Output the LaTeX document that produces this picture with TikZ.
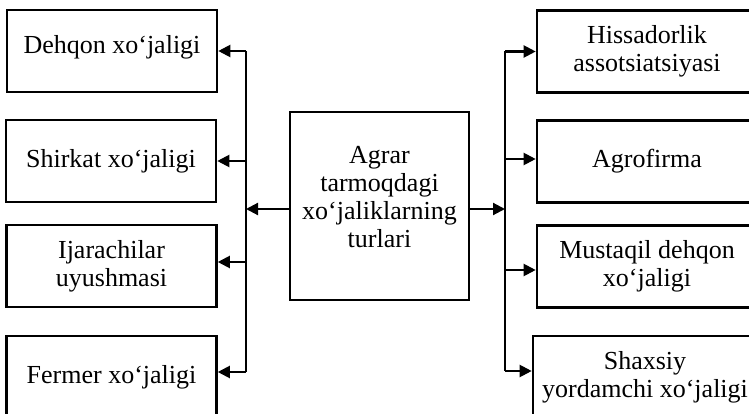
\documentclass[tikz,border=0pt]{standalone}
\usepackage{fontspec}
\setmainfont{Liberation Serif}
\usetikzlibrary{%
		arrows.meta%
		,positioning%
	}

\begin{document}
\begin{tikzpicture}[x=1pt,y=-1pt,
		txt/.style={align=center, font=\fontsize{26}{28}\selectfont},
		box/.style={draw, line width=2.6pt, inner sep=2pt, txt},
		lbox/.style={box, minimum width=210pt, minimum height=82pt},
		rbox/.style={box, minimum width=220pt, minimum height=82pt},
		conn/.style={line width=2.1pt},
		arr/.style={conn, -{Triangle[length=12pt,width=12pt]}}]
			\useasboundingbox (0,0) rectangle (749,414);
			\clip (0,0) rectangle (749,414);

			% Mitte
			\node[box, minimum width=179pt, minimum height=188pt,
				label={[txt, yshift=9pt]center:{Agrar\\tarmoqdagi\\xo‘jaliklarning\\turlari}}]
				(turlar) at (379.5,206) {};

			% links
			\node[lbox, label={[txt, yshift=4pt]center:{Dehqon xo‘jaligi}}] (dehqon) at (112,51) {};
			\node[lbox] (shirkat) at (111,161) {Shirkat xo‘jaligi};
			\node[lbox] (ijara) at (111.5,266) {Ijarachilar\\uyushmasi};
			\node[lbox] (fermer) at (111.5,377) {Fermer xo‘jaligi};

			% rechts
			\node[rbox] (hissa) at (647,51.5) {Hissadorlik\\assotsiatsiyasi};
			\node[rbox] (agro) at (647,161.5) {Agrofirma};
			\node[rbox] (mustaqil) at (647,266.5) {Mustaqil dehqon\\xo‘jaligi};
			\node[rbox, minimum width=224pt] (shaxsiy) at (645,377) {Shaxsiy\\yordamchi xo‘jaligi};

			\coordinate (lbus) at (246,0);
			\coordinate (rbus) at (505,0);

			% Sammelschienen
			\draw[conn] (dehqon.east -| lbus) -- ([yshift=5pt]fermer.east -| lbus);
			\draw[conn] (hissa.west -| rbus) -- ([yshift=6pt]shaxsiy.west -| rbus);

			\draw[arr] ([yshift=-3pt]turlar.west) -- ([yshift=-3pt]turlar.west -| lbus);
			\draw[arr] ([yshift=-3pt]turlar.east) -- ([yshift=-3pt]turlar.east -| rbus);

			\draw[arr] (dehqon.east -| lbus) -- (dehqon.east);
			\draw[arr] (shirkat.east -| lbus) -- (shirkat.east);
			\draw[arr] ([yshift=4pt]ijara.east -| lbus) -- ([yshift=4pt]ijara.east);
			\draw[arr] ([yshift=5pt]fermer.east -| lbus) -- ([yshift=5pt]fermer.east);

			\draw[arr] (hissa.west -| rbus) -- (hissa.west);
			\draw[arr] ([yshift=2.5pt]agro.west -| rbus) -- ([yshift=2.5pt]agro.west);
			\draw[arr] ([yshift=-3.5pt]mustaqil.west -| rbus) -- ([yshift=-3.5pt]mustaqil.west);
			\draw[arr] ([yshift=6pt]shaxsiy.west -| rbus) -- ([yshift=6pt]shaxsiy.west);
		\end{tikzpicture}
\end{document}
